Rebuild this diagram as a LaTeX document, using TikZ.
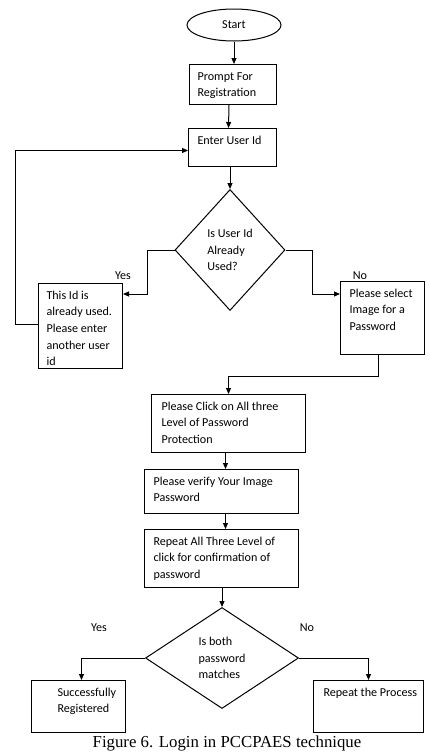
\documentclass[tikz,border=0pt]{standalone}
\usepackage{fontspec}
\setmainfont{Liberation Serif}
\newfontfamily\calib{Carlito}
\usetikzlibrary{shapes.geometric,arrows.meta,calc}
\newcommand\bxt[4]{\parbox[c][#2][t]{#1}{\vspace*{4pt}\hspace*{#3}\parbox[t]{\dimexpr#1-#3\relax}{\raggedright\strut #4}}}
\begin{document}
\begin{tikzpicture}[x=1pt,y=-1pt,
  every node/.style={font=\calib\fontsize{12.1}{16.7}\selectfont},
  box/.style={draw, line width=1pt, inner sep=0pt, anchor=north west},
  dia/.style={draw, line width=1pt, diamond, inner sep=0pt, align=left},
  lbl/.style={inner sep=0pt},
  arr/.style={line width=1pt, -{Triangle[length=6pt,width=5pt]}}]
\useasboundingbox (0,0) rectangle (429,755);
\node[draw, line width=1pt, ellipse, minimum width=94pt, minimum height=32pt, inner sep=0pt] (start) at (234,25) {Start};
\node[box] (prompt) at (189,64) {\bxt{87pt}{40pt}{8pt}{Prompt For\\Registration}};
\node[box] (enter) at (188,128) {\bxt{88pt}{38pt}{9pt}{Enter User Id}};
\node[dia, minimum width=110pt, minimum height=121pt] (dia1) at (230,250) {Is User Id\\Already\\Used?};
\node[box] (used) at (38,283) {\bxt{84pt}{85pt}{8pt}{This Id is\\already used.\\Please enter\\another user\\id}};
\node[box] (sel) at (340,281) {\bxt{84pt}{73pt}{9pt}{Please select\\Image for a\\Password}};
\node[box] (click) at (151,394) {\bxt{154pt}{58pt}{10pt}{Please Click on All three\\Level of Password\\Protection}};
\node[box] (verify) at (144,469) {\bxt{154pt}{44pt}{9pt}{Please verify Your Image\\Password}};
\node[box] (rep) at (144,529) {\bxt{154pt}{58pt}{9pt}{Repeat All Three Level of\\click for confirmation of\\password}};
\node[dia, minimum width=153pt, minimum height=101pt] (dia2) at (222,658) {Is both\\password\\matches};
\node[box] (succ) at (31,680) {\bxt{94pt}{52pt}{26pt}{Successfully\\Registered}};
\node[box] (again) at (313,680) {\bxt{110pt}{52pt}{10pt}{Repeat the Process}};
\node[lbl] (yes1) at (123,276) {Yes};
\node[lbl] (no1) at (360,276) {No};
\node[lbl] (yes2) at (99,628) {Yes};
\node[lbl] (no2) at (307,628) {No};
\node[inner sep=0pt, font=\rmfamily\fontsize{16.8}{20}\selectfont] (cap) at (227,743) {Figure 6. Login in PCCPAES technique};
% connectors
\draw[arr] (start.south) -- (start.south |- prompt.north);
\draw[arr] ([xshift=-4pt]prompt.south) -- ([xshift=-4pt]enter.north);
\draw[arr] (enter.south -| dia1.north) -- (dia1.north);
\draw[arr] (dia1.west) -- ++(-27,0) |- ([yshift=-11pt]used.north east);
\draw[arr] ([yshift=2pt]used.west) -- ++(-23,0) |- ([yshift=-3pt]enter.west);
\draw[arr] (dia1.east) -- ++(27,0) |- ([yshift=-13pt]sel.north west);
\draw[arr] ([xshift=-4pt]sel.south) -- ++(0,21) -| (click.north);
\draw[arr] ([xshift=-3pt]click.south) -- ([xshift=4pt]verify.north);
\draw[arr] ([xshift=4pt]verify.south) -- ([xshift=4pt]rep.north);
\draw[arr] (rep.south -| dia2.north) -- (dia2.north);
\draw[arr] (dia2.west) -| ([xshift=3pt]succ.north);
\draw[arr] (dia2.east) -| (again.north);
\end{tikzpicture}
\end{document}
